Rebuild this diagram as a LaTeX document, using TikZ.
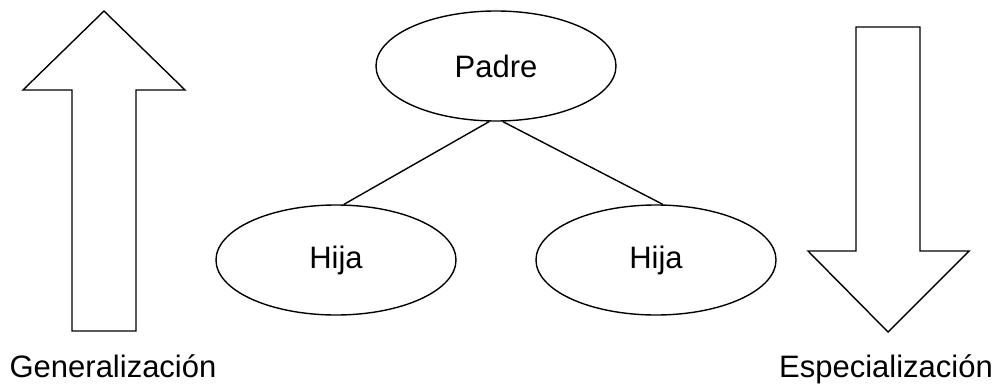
\documentclass[tikz,border=0pt]{standalone}
\usepackage{fontspec}
\setmainfont{Liberation Sans}
\usetikzlibrary{shapes.geometric}
\tikzset{
  clase/.style={
    draw, ellipse, line width=1.4pt, inner sep=0pt,
    minimum width=240pt, minimum height=110pt,
    font=\fontsize{31}{37}\selectfont},
  enlace/.style={line width=1.4pt},
  flecha/.style={draw, line width=1.4pt, line join=miter},
  rotulo/.style={anchor=base, inner sep=0pt, font=\fontsize{31}{37}\selectfont},
}

\begin{document}
\begin{tikzpicture}[x=1pt, y=-1pt]
  \useasboundingbox (0,0) rectangle (998,385);

  % jerarquia de clases
  \node[clase] (padre) at (496,66) {Padre};
  \node[clase] (hija1) at (336,260) {Hija};
  \node[clase] (hija2) at (656,260) {Hija};
  \draw[enlace] (padre.-97) -- (hija1.82);
  \draw[enlace] (padre.-83) -- (hija2.83);

  % flecha hacia arriba
  \draw[flecha] (72,331) -- (72,90) -- (23,90) -- (104,11) -- (185,90)
    -- (136,90) -- (136,331) -- cycle;
  % flecha hacia abajo
  \draw[flecha] (856,27) -- (920,27) -- (920,251) -- (969,251) -- (888,332)
    -- (808,251) -- (856,251) -- cycle;

  \node[rotulo] (gen) at (113,377) {Generalización};
  \node[rotulo] (esp) at (886,377) {Especialización};
\end{tikzpicture}
\end{document}
